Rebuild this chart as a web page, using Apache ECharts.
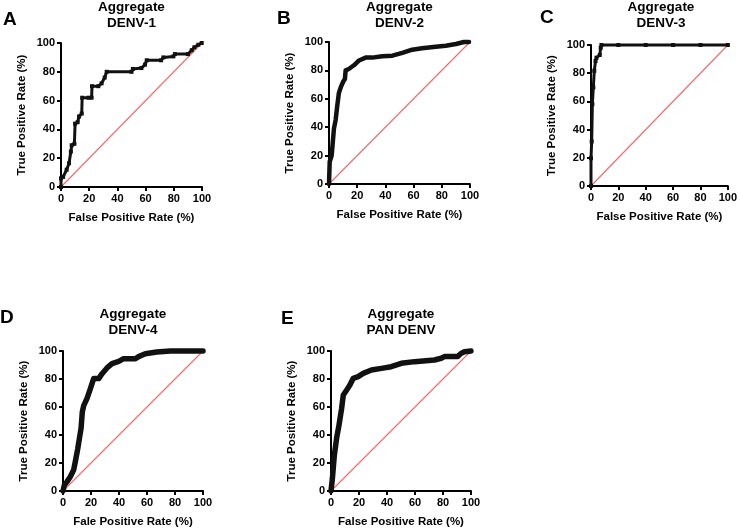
<!DOCTYPE html>
<html>
<head>
<meta charset="utf-8">
<script src="https://cdn.jsdelivr.net/npm/echarts@6/dist/echarts.min.js"></script>
<style>
  html, body { margin: 0; padding: 0; background: #fff; }
  #chart { width: 740px; height: 529px; }
</style>
</head>
<body>
<div id="chart"></div>
<script>
// ROC points, x = false positive rate, y = true positive rate
const denv1X = [0, 0, 1.5, 4, 5.7, 7, 7.6, 9.5, 10, 11.8, 12.8, 14.7, 15, 19.4, 21.7, 22, 26.5, 28.8, 31, 32.4, 50, 51, 57, 59.6, 60.8, 71, 72.6, 79.7, 80.8, 90, 92.7, 94.6, 97.4, 99.8]
const denv1Y = [0, 6, 7, 12, 16.5, 24.6, 29, 30, 44, 45, 49, 51, 62, 62, 62, 70, 70, 72, 76, 80, 80, 82, 82.6, 85, 88, 88, 90, 90.7, 92.3, 92.3, 95, 97, 98.8, 100]

const denv2X = [0, 0.5, 1.9, 3.5, 4.7, 5.9, 7, 8.3, 10, 11.3, 11.8, 14, 17.7, 21.3, 26, 30.7, 37.8, 45, 52, 59, 66, 75.7, 82.8, 90, 95.7, 99.3]
const denv2Y = [0, 15.7, 20, 39, 45, 55.5, 64, 68, 72, 74, 80, 81, 83.6, 87, 89, 89, 90, 90.4, 92.3, 94.6, 95.6, 96.7, 97.4, 98.6, 100, 100]

const denv3X = [0, 0, 0.5, 1, 1.7, 2.4, 3.3, 4, 6.4, 7.1, 7.6, 20, 40, 60, 80, 100]
const denv3Y = [0, 19.7, 31.6, 58, 70, 81.7, 88.6, 91, 92.9, 98, 100, 100, 100, 100, 100, 100]

const denv4X = [0, 1, 2.9, 5.2, 7.6, 8.8, 10.5, 11.9, 12.9, 13.8, 14.8, 17.1, 19.5, 21.9, 25.5, 27.9, 31.4, 35, 39.8, 43.3, 51.7, 54, 58.8, 67, 76.7, 100]
const denv4Y = [0, 4.3, 6.7, 10.2, 15, 21, 30, 38.7, 44.7, 56.5, 61, 66, 73, 80.3, 80.3, 83.8, 87.9, 91, 92.6, 94.5, 94.5, 96, 98, 99.3, 100, 100]

const panX = [0, 1, 2.4, 4, 5.7, 7.6, 8.8, 11.1, 13.5, 15.9, 19.4, 23, 28.9, 36, 43, 50.2, 59.7, 73.9, 78.7, 81, 90.5, 92.9, 95.3, 100]
const panY = [0, 9, 25.7, 37.6, 47, 59, 68.6, 72, 75.7, 80.5, 81.7, 84, 86.4, 87.6, 88.8, 91.2, 92.4, 93.6, 94.8, 96, 96, 98.3, 99.5, 100]

const tickValues = [0, 20, 40, 60, 80, 100]
const panelLetters = ['A', 'B', 'C', 'D', 'E']
const panelNames = ['DENV-1', 'DENV-2', 'DENV-3', 'DENV-4', 'PAN DENV']
const xTitles = ['False Positive Rate (%)', 'False Positive Rate (%)', 'False Positive Rate (%)', 'Fale Positive Rate (%)', 'False Positive Rate (%)']
const yTitle = 'True Positive Rate (%)'

const curves = [[denv1X, denv1Y], [denv2X, denv2Y], [denv3X, denv3Y], [denv4X, denv4Y], [panX, panY]]

// layout of the five plot boxes
const boxes = [
  { left: 61, top: 43, width: 141, height: 144 },
  { left: 329, top: 42, width: 141, height: 142 },
  { left: 591, top: 45, width: 140, height: 141 },
  { left: 63, top: 351, width: 140, height: 140 },
  { left: 331, top: 351, width: 140, height: 140 }
]
const titleTops = [-1, -1, -1, 306, 306]
const letterPos = [[3, 10], [277, 9], [540, 8], [0, 308], [281, 309]]
const lineWidths = [3, 4.5, 3, 5.5, 5.5]

const font = '"Liberation Sans", Arial, sans-serif'

const chart = echarts.init(document.getElementById('chart'))

const axisCommon = {
  type: 'value',
  min: 0,
  max: 100,
  interval: 20,
  splitLine: { show: false },
  axisLine: { show: true, onZero: false, lineStyle: { color: '#000', width: 2 } },
  axisTick: { show: true, length: 4, lineStyle: { color: '#000', width: 2 } },
  axisLabel: { color: '#000', fontWeight: 'bold', fontSize: 11, fontFamily: font, margin: 6 },
  nameLocation: 'middle',
  nameTextStyle: { color: '#000', fontWeight: 'bold', fontSize: 11.5, fontFamily: font }
}

const grid = [], xAxis = [], yAxis = [], series = [], title = []

boxes.forEach((b, i) => {
  grid.push(b)
  xAxis.push(Object.assign({}, axisCommon, { gridIndex: i, name: xTitles[i], nameGap: 25 }))
  yAxis.push(Object.assign({}, axisCommon, { gridIndex: i, name: yTitle, nameGap: 33 }))
  // chance line
  series.push({
    type: 'line',
    xAxisIndex: i,
    yAxisIndex: i,
    data: [[0, 0], [100, 100]],
    symbol: 'none',
    silent: true,
    lineStyle: { color: '#f06a6a', width: 1.1 },
    z: 1
  })
  const xs = curves[i][0], ys = curves[i][1]
  series.push({
    type: 'line',
    xAxisIndex: i,
    yAxisIndex: i,
    data: xs.map((x, k) => [x, ys[k]]),
    symbol: (i === 0 || i === 2) ? 'rect' : 'none',
    symbolSize: 4,
    clip: false,
    itemStyle: { color: '#111' },
    lineStyle: { color: '#111', width: lineWidths[i], cap: 'round', join: 'round' },
    z: 3
  })
  title.push({
    text: 'Aggregate\n' + panelNames[i],
    left: b.left + b.width / 2,
    top: titleTops[i],
    padding: 0,
    textAlign: 'center',
    textStyle: { color: '#000', fontWeight: 'bold', fontSize: 13.5, lineHeight: 16, fontFamily: font }
  })
  title.push({
    text: panelLetters[i],
    left: letterPos[i][0],
    top: letterPos[i][1],
    padding: 0,
    textStyle: { color: '#000', fontWeight: 'bold', fontSize: 19, fontFamily: font }
  })
})

chart.setOption({
  backgroundColor: '#fff',
  animation: false,
  title: title,
  grid: grid,
  xAxis: xAxis,
  yAxis: yAxis,
  series: series
})

window.onresize = function () {
  chart.resize()
}
</script>
</body>
</html>
